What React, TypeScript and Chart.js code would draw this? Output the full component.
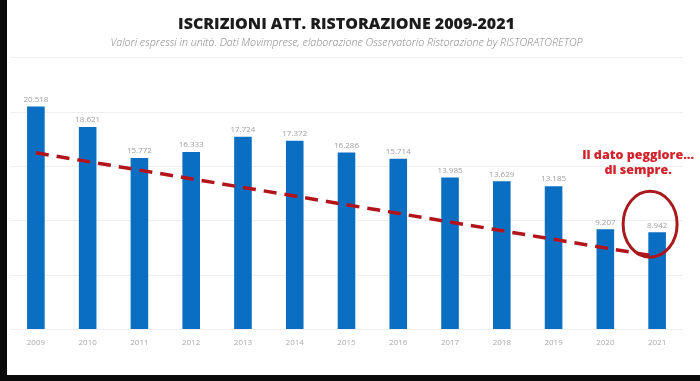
import React, { useEffect, useRef } from "react";
import { Chart, registerables } from "chart.js";

Chart.register(...registerables);

const years = ["2009", "2010", "2011", "2012", "2013", "2014", "2015", "2016", "2017", "2018", "2019", "2020", "2021"];
const iscrizioni = [20518, 18621, 15772, 16333, 17724, 17372, 16286, 15714, 13985, 13629, 13185, 9207, 8942];
// hand-drawn trend arrow: start (2009) and end (2021) only
const trend = [16250, null, null, null, null, null, null, null, null, null, null, null, 6700];

const TITLE = "ISCRIZIONI ATT. RISTORAZIONE 2009-2021";
const SUBTITLE = "Valori espressi in unità. Dati Movimprese, elaborazione Osservatorio Ristorazione by RISTORATORETOP";
const NOTE = ["Il dato peggiore...", "di sempre."];

const fmt = (v: number) => String(v).replace(/\B(?=(\d{3})+(?!\d))/g, ".");

const framePlugin = {
  id: "frame",
  beforeDraw(chart: any) {
    const { ctx, width, height } = chart;
    ctx.save();
    ctx.fillStyle = "#ffffff";
    ctx.fillRect(0, 0, width, height);
    ctx.fillStyle = "#0a0a0a";
    ctx.fillRect(0, 0, 7, height);
    ctx.fillRect(0, height - 6, width, 6);
    ctx.restore();
  },
};

const labelsPlugin = {
  id: "valueLabels",
  afterDatasetsDraw(chart: any) {
    const { ctx } = chart;
    const meta = chart.getDatasetMeta(0);
    ctx.save();
    ctx.font = "8px 'Open Sans'";
    ctx.fillStyle = "#a0a0a0";
    ctx.textAlign = "center";
    ctx.textBaseline = "bottom";
    meta.data.forEach((bar: any, i: number) => {
      ctx.fillText(fmt(iscrizioni[i]), bar.x, bar.y - 3);
    });
    ctx.restore();
  },
};

const notePlugin = {
  id: "note",
  afterDraw(chart: any) {
    const { ctx } = chart;
    const meta = chart.getDatasetMeta(0);
    const last = meta.data[meta.data.length - 1];
    if (!last) return;
    const cx = last.x - 7;
    const cy = last.y - 8;
    ctx.save();
    ctx.strokeStyle = "#a8181c";
    ctx.lineWidth = 3;
    ctx.beginPath();
    ctx.ellipse(cx, cy, 27, 33, 0, 0, Math.PI * 2);
    ctx.stroke();
    ctx.fillStyle = "#d3222b";
    ctx.font = "800 12.5px 'Open Sans'";
    ctx.textAlign = "center";
    ctx.textBaseline = "middle";
    ctx.fillText(NOTE[0], last.x - 19, last.y - 77);
    ctx.fillText(NOTE[1], last.x - 19, last.y - 62);
    ctx.restore();
  },
};

export default function App() {
  const ref = useRef<HTMLCanvasElement>(null);
  useEffect(() => {
    if (!ref.current) return;
    const chart = new Chart(ref.current, {
      type: "bar",
      data: {
        labels: years,
        datasets: [
          {
            type: "bar",
            data: iscrizioni,
            backgroundColor: "#0a6fc2",
            barPercentage: 0.34,
            categoryPercentage: 1,
            order: 1,
          },
          {
            type: "line",
            data: trend as any,
            spanGaps: true,
            borderColor: "#b3141b",
            borderWidth: 3.5,
            borderDash: [13, 8],
            pointRadius: 0,
            fill: false,
            order: 0,
          } as any,
        ],
      },
      options: {
        responsive: false,
        animation: false,
        layout: { padding: { left: 10, right: 17, top: 0, bottom: 24 } },
        plugins: {
          legend: { display: false },
          tooltip: { enabled: false },
          title: {
            display: true,
            text: TITLE,
            color: "#1c1c1c",
            font: { family: "'Open Sans'", size: 16, weight: "800" as any, lineHeight: 1.2 },
            padding: { top: 15, bottom: 0 },
          },
          subtitle: {
            display: true,
            text: SUBTITLE,
            color: "#858585",
            font: { family: "'Open Sans'", size: 10.7, style: "italic", weight: "300" as any, lineHeight: 1.2 },
            padding: { top: 2.5, bottom: 8.2 },
          },
        },
        scales: {
          x: {
            grid: { display: false, drawTicks: false },
            border: { display: false },
            ticks: { color: "#a8a8a8", font: { family: "'Open Sans'", size: 8 }, padding: 9, maxRotation: 0 },
          },
          y: {
            min: 0,
            max: 25000,
            grid: { color: "#efefef", drawTicks: false, lineWidth: 1 },
            border: { display: false },
            ticks: { display: false, stepSize: 5000 },
          },
        },
      },
      plugins: [framePlugin, labelsPlugin, notePlugin],
    });
    return () => chart.destroy();
  }, []);
  return (
    <div style={{ position: "fixed", left: 0, top: 0, width: 700, height: 381 }}>
      <canvas ref={ref} width={700} height={381} style={{ display: "block" }} />
    </div>
  );
}
